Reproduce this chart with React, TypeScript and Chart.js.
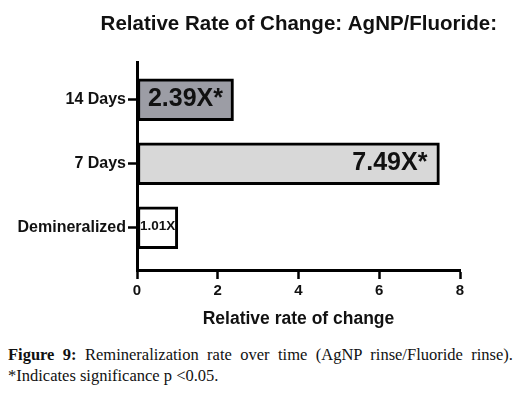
import React, { useEffect, useRef } from "react";
import { Chart, registerables } from "chart.js";

Chart.register(...registerables);

// ---- data ----
const categories = ["Demineralized", "7 Days", "14 Days"]; // bottom to top
const values = [1.01, 7.49, 2.39];
const significant = [false, true, true];
const xTicks = [0, 2, 4, 6, 8];

const titleText = "Relative Rate of Change: AgNP/Fluoride:";
const xTitle = "Relative rate of change";

// ---- styles ----
const barColors = ["#ffffff", "#d8d8d8", "#9c9da5"];
const labelStyles = [
  { size: 13.5, align: "left", inset: 2.5 },
  { size: 25, align: "right", inset: 12 },
  { size: 25, align: "center", inset: 0 },
];
const SANS = "'Liberation Sans', Arial, sans-serif";

const valueLabelPlugin = {
  id: "valueLabels",
  afterDatasetsDraw(chart: any) {
    const meta = chart.getDatasetMeta(0);
    const ctx = chart.ctx;
    meta.data.forEach((bar: any, i: number) => {
      const { x, y, base } = bar.getProps(["x", "y", "base"], true);
      const st = labelStyles[i];
      const text = values[i].toFixed(2) + "X" + (significant[i] ? "*" : "");
      ctx.save();
      ctx.font = `bold ${st.size}px ${SANS}`;
      ctx.fillStyle = "#111";
      ctx.textBaseline = "middle";
      let tx = (x + base) / 2;
      if (st.align === "left") {
        ctx.textAlign = "left";
        tx = base + st.inset;
      } else if (st.align === "right") {
        ctx.textAlign = "right";
        tx = x - st.inset;
      } else {
        ctx.textAlign = "center";
      }
      ctx.fillText(text, tx, y - 1);
      ctx.restore();
    });
  },
};

export default function App() {
  const ref = useRef<HTMLCanvasElement | null>(null);

  useEffect(() => {
    if (!ref.current) return;
    Chart.defaults.font.family = SANS;
    const chart = new Chart(ref.current, {
      type: "bar",
      data: {
        datasets: [
          {
            data: values.map((v, i) => ({ x: v, y: i })),
            backgroundColor: barColors,
            borderColor: "#000",
            borderWidth: 3,
            borderSkipped: false,
            barThickness: 42,
          } as any,
        ],
      },
      plugins: [valueLabelPlugin],
      options: {
        indexAxis: "y",
        animation: false,
        responsive: true,
        maintainAspectRatio: false,
        layout: { padding: { top: 0, right: 16, bottom: 0, left: 0 } },
        plugins: {
          legend: { display: false },
          tooltip: { enabled: false },
          title: {
            display: true,
            text: titleText,
            align: "end",
            color: "#111",
            font: { size: 20.5, weight: "bold", family: SANS },
            padding: { top: 4, bottom: 26 },
          } as any,
        },
        scales: {
          x: {
            type: "linear",
            min: xTicks[0],
            max: xTicks[xTicks.length - 1],
            afterBuildTicks: (scale: any) => {
              scale.ticks = xTicks.map((v) => ({ value: v }));
            },
            afterFit: (scale: any) => {
              scale.height = 64;
              scale.paddingRight = 53;
            },
            grid: {
              drawOnChartArea: false,
              drawTicks: true,
              tickLength: 9,
              tickColor: "#000",
              tickWidth: 2.5,
            },
            border: { display: true, color: "#000", width: 3 },
            ticks: {
              color: "#111",
              padding: 3,
              font: { size: 15, weight: "bold", family: SANS },
            },
            title: {
              display: true,
              text: xTitle,
              color: "#111",
              font: { size: 17.5, weight: "bold", family: SANS },
              padding: { top: 0, bottom: 4.5 },
            },
          },
          y: {
            type: "linear",
            min: -0.66,
            max: 2.58,
            bounds: "data",
            offset: false,
            afterBuildTicks: (scale: any) => {
              scale.ticks = categories.map((_, i) => ({ value: i }));
            },
            afterFit: (scale: any) => {
              scale.width = 129;
            },
            grid: {
              offset: false,
              drawOnChartArea: false,
              drawTicks: true,
              tickLength: 9,
              tickColor: "#000",
              tickWidth: 2.5,
            },
            border: { display: true, color: "#000", width: 3 },
            ticks: {
              autoSkip: false,
              color: "#111",
              padding: 2,
              font: { size: 16, weight: "bold", family: SANS },
              callback: (v: any) => categories[Number(v)] ?? "",
            },
          },
        },
      } as any,
    });
    return () => chart.destroy();
  }, []);

  const cap: React.CSSProperties = {
    width: 505,
    fontFamily: "'Liberation Serif', 'Times New Roman', serif",
    fontSize: 16.5,
    lineHeight: "21px",
    color: "#111",
  };

  return (
    <div>
      <div style={{ position: "relative", width: 505, height: 326 }}>
        <canvas ref={ref} style={{ display: "block" }} />
      </div>
      <div style={{ marginTop: 10 }}>
        <div style={{ ...cap, textAlign: "justify", textAlignLast: "justify" }}>
          <b>Figure 9:</b> Remineralization rate over time (AgNP rinse/Fluoride rinse).
        </div>
        <div style={{ ...cap, textAlign: "left" }}>*Indicates significance p &lt;0.05.</div>
      </div>
    </div>
  );
}
